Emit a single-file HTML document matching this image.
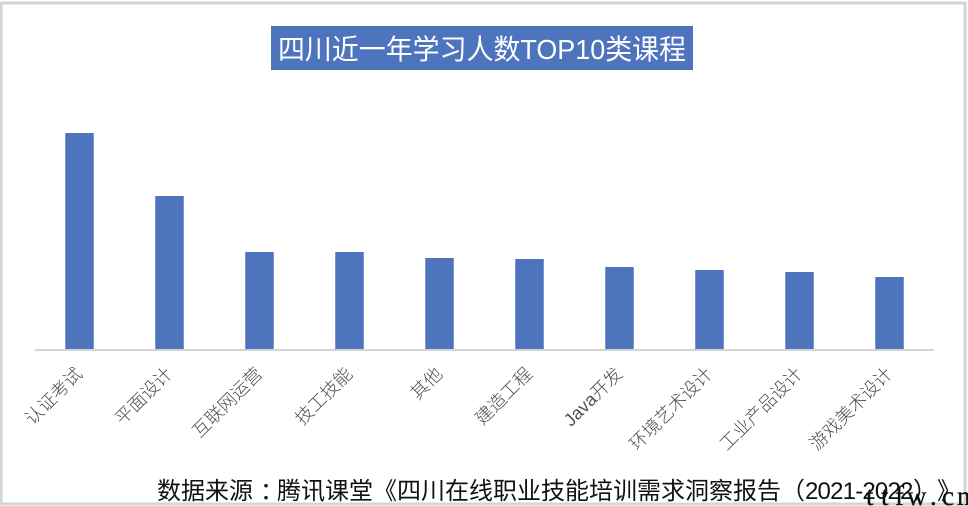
<!DOCTYPE html>
<html lang="zh">
<head>
<meta charset="utf-8">
<title>四川近一年学习人数TOP10类课程</title>
<style>
html,body{margin:0;padding:0;background:#fff;}
body{width:968px;height:506px;overflow:hidden;position:relative;}
svg{display:block;position:absolute;left:0;top:0;}
text{font-family:"Liberation Sans","Noto Sans CJK SC",sans-serif;}
.jp{font-family:"Noto Sans CJK JP",sans-serif;}
</style>
</head>
<body>
<svg id="chart" width="968" height="506" viewBox="0 0 968 506" xmlns="http://www.w3.org/2000/svg">
  <rect x="1" y="3" width="964" height="501" fill="#fff" stroke="#d4d4d4" stroke-width="3"/>
  <rect x="271" y="26" width="422" height="44" fill="#4e74bd"/>
  <text x="278" y="59" font-size="28" fill="#fff" textLength="408" lengthAdjust="spacingAndGlyphs">四川近一年学习人数TOP10类课程</text>
  <g id="bars"></g>
  <line x1="35" y1="350" x2="934" y2="350" stroke="#d4d4d4" stroke-width="2"/>
  <g id="labels"></g>
  <text y="499" font-size="24" fill="#111"><tspan x="157">数据来源</tspan><tspan x="260" class="jp">：</tspan><tspan x="277">腾讯课堂</tspan><tspan x="373" class="jp">《</tspan><tspan x="397">四川在线职业技能培训需求洞察报告</tspan><tspan x="781" class="jp">（</tspan><tspan x="805" letter-spacing="-0.8">2021-2022</tspan><tspan x="913" class="jp">）</tspan><tspan x="937" class="jp">》</tspan></text>
  <text x="866 881 895 907 930 942 957" y="505" font-size="27" fill="#111" stroke="#111" stroke-width="0.3" style="font-family:'Liberation Serif',serif">ttfw.cn</text>
</svg>
<script>
const categories = ["认证考试","平面设计","互联网运营","技工技能","其他","建造工程","Java开发","环境艺术设计","工业产品设计","游戏美术设计"];
const seriesValues = [217,154,98,98,92,91,83,80,78,73];

const NS = "http://www.w3.org/2000/svg";
const baselineY = 350;
const pxPerUnit = 1;
const plotLeft = 34.5;
const bandWidth = 90;
const barWidth = 28.5;
function xCenter(i){ return plotLeft + bandWidth * (i + 0.5); }
function yScale(v){ return baselineY - v * pxPerUnit; }

const barsGroup = document.getElementById("bars");
const labelsGroup = document.getElementById("labels");

seriesValues.forEach(function(v, i){
  const r = document.createElementNS(NS, "rect");
  r.setAttribute("x", xCenter(i) - barWidth / 2);
  r.setAttribute("y", yScale(v));
  r.setAttribute("width", barWidth);
  r.setAttribute("height", baselineY - yScale(v));
  r.setAttribute("fill", "#4e74bd");
  
  
  barsGroup.appendChild(r);
});

categories.forEach(function(c, i){
  const t = document.createElementNS(NS, "text");
  const lx = xCenter(i) + 4;
  const ly = 375;
  t.setAttribute("x", lx);
  t.setAttribute("y", ly);
  t.setAttribute("text-anchor", "end");
  t.setAttribute("font-size", "18");
  t.setAttribute("font-weight", "300");
  t.setAttribute("fill", "#505050");
  t.setAttribute("transform", "rotate(-45 " + lx + " " + ly + ")");
  
  
  t.textContent = c;
  labelsGroup.appendChild(t);
});
</script>
</body>
</html>
